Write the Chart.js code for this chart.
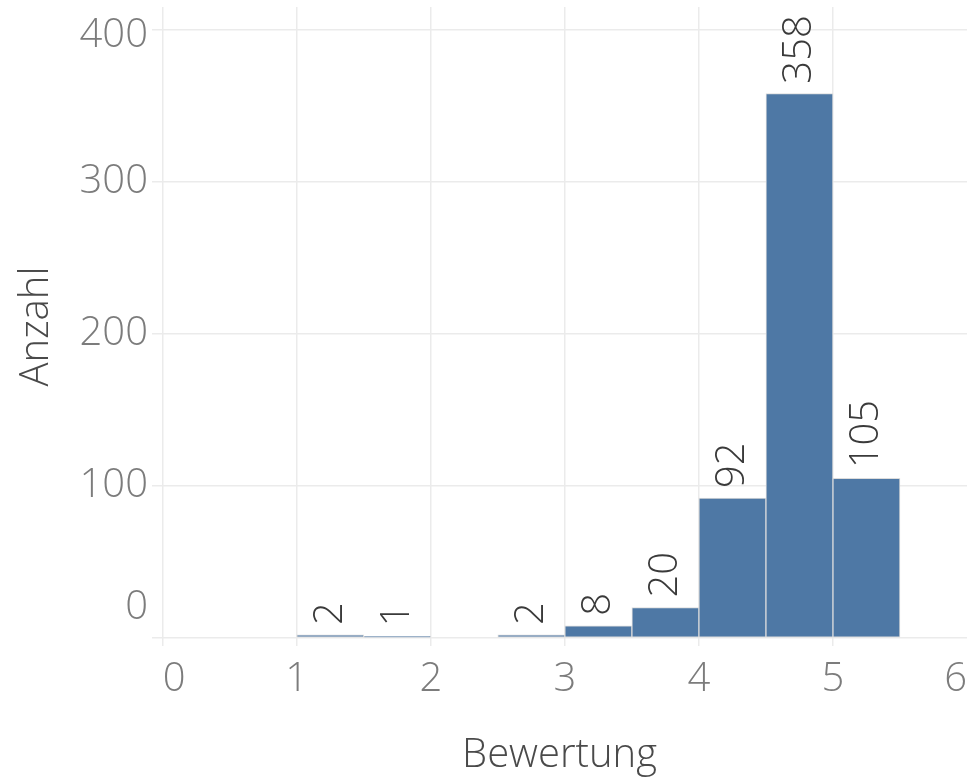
<!DOCTYPE html>
<html>
<head>
<meta charset="utf-8">
<script src="https://cdn.jsdelivr.net/npm/chart.js@4"></script>
<style>
  html, body { margin: 0; padding: 0; background: #fff; }
  #wrap { width: 967px; height: 777px; }
</style>
</head>
<body>
<div id="wrap"><canvas id="histChart"></canvas></div>
<script>
// Histogram bins (width 0.5) and counts
const binCenters = [1.25, 1.75, 2.25, 2.75, 3.25, 3.75, 4.25, 4.75, 5.25];
const counts = [2, 1, 0, 2, 8, 20, 92, 358, 105];
const xTicks = [0, 1, 2, 3, 4, 5, 6];
const yTicks = [0, 100, 200, 300, 400];

const FONT = "'Open Sans', 'DejaVu Sans', sans-serif";
const WEIGHT = 300;

// Rotated count labels above each bar
const barLabels = {
  id: "barLabels",
  afterDatasetsDraw(chart) {
    const ctx = chart.ctx;
    const meta = chart.getDatasetMeta(0);
    ctx.save();
    ctx.font = WEIGHT + " 40px " + FONT;
    ctx.fillStyle = "#3a3a3a";
    ctx.textAlign = "left";
    ctx.textBaseline = "middle";
    meta.data.forEach((bar, i) => {
      if (!counts[i]) return;
      ctx.save();
      ctx.translate(bar.x, bar.y - 10);
      ctx.rotate(-Math.PI / 2);
      ctx.fillText(String(counts[i]), 0, 0);
      ctx.restore();
    });
    ctx.restore();
  }
};

const noPad = s => { s.paddingLeft = 0; s.paddingRight = 0; s.paddingTop = 0; s.paddingBottom = 0; };

const ctx = document.getElementById("histChart").getContext("2d");
new Chart(ctx, {
  type: "bar",
  data: {
    datasets: [{
      data: binCenters.map((x, i) => ({ x: x, y: counts[i] })),
      backgroundColor: c => (c.raw && c.raw.y > 0 ? "#4e78a5" : "rgba(0,0,0,0)"),
      borderColor: "#dcdcdc",
      borderWidth: c => (c.raw && c.raw.y > 0 ? 1 : 0),
      borderSkipped: false,
      barPercentage: 1,
      categoryPercentage: 1
    }]
  },
  options: {
    responsive: true,
    maintainAspectRatio: false,
    animation: false,
    layout: { padding: { top: 7, right: 0, left: 0, bottom: 0 } },
    plugins: {
      legend: { display: false },
      tooltip: { enabled: false }
    },
    scales: {
      x: {
        type: "linear",
        min: -0.08,
        max: 6,
        offset: false,
        border: { display: false },
        grid: {
          offset: false,
          drawTicks: false,
          color: c => (c.tick && c.tick.value === 6 ? "rgba(0,0,0,0)" : "#ebebeb"),
          lineWidth: 1.5
        },
        ticks: {
          stepSize: 1,
          includeBounds: false,
          autoSkip: false,
          maxRotation: 0,
          align: "inner",
          padding: 10,
          color: "#7c7c7c",
          font: { family: FONT, size: 40, weight: WEIGHT }
        },
        title: {
          display: true,
          text: "Bewertung",
          color: "#4a4a4a",
          font: { family: FONT, size: 40, weight: WEIGHT },
          padding: { top: 0, bottom: -3 }
        },
        afterFit: s => { s.height = 131; noPad(s); }
      },
      y: {
        min: -5.3,
        max: 415,
        border: { display: false },
        grid: { drawTicks: false, color: "#ebebeb", lineWidth: 1.5 },
        ticks: {
          stepSize: 100,
          includeBounds: false,
          autoSkip: false,
          padding: 4,
          color: "#7c7c7c",
          font: c => {
            const v = c.tick ? c.tick.value : null;
            return { family: FONT, size: 40, weight: WEIGHT, lineHeight: v === 0 ? "60px" : v === 400 ? "12px" : 1.2 };
          },
          // nudge edge labels like the reference
          callback: v => (v === 0 ? ["0", ""] : v === 400 ? ["", "400"] : String(v))
        },
        title: {
          display: true,
          text: "Anzahl",
          color: "#4a4a4a",
          font: { family: FONT, size: 40, weight: WEIGHT },
          padding: { top: 13, bottom: 0 }
        },
        afterFit: s => { s.width = 152; noPad(s); }
      }
    }
  },
  plugins: [barLabels]
});
</script>
</body>
</html>
